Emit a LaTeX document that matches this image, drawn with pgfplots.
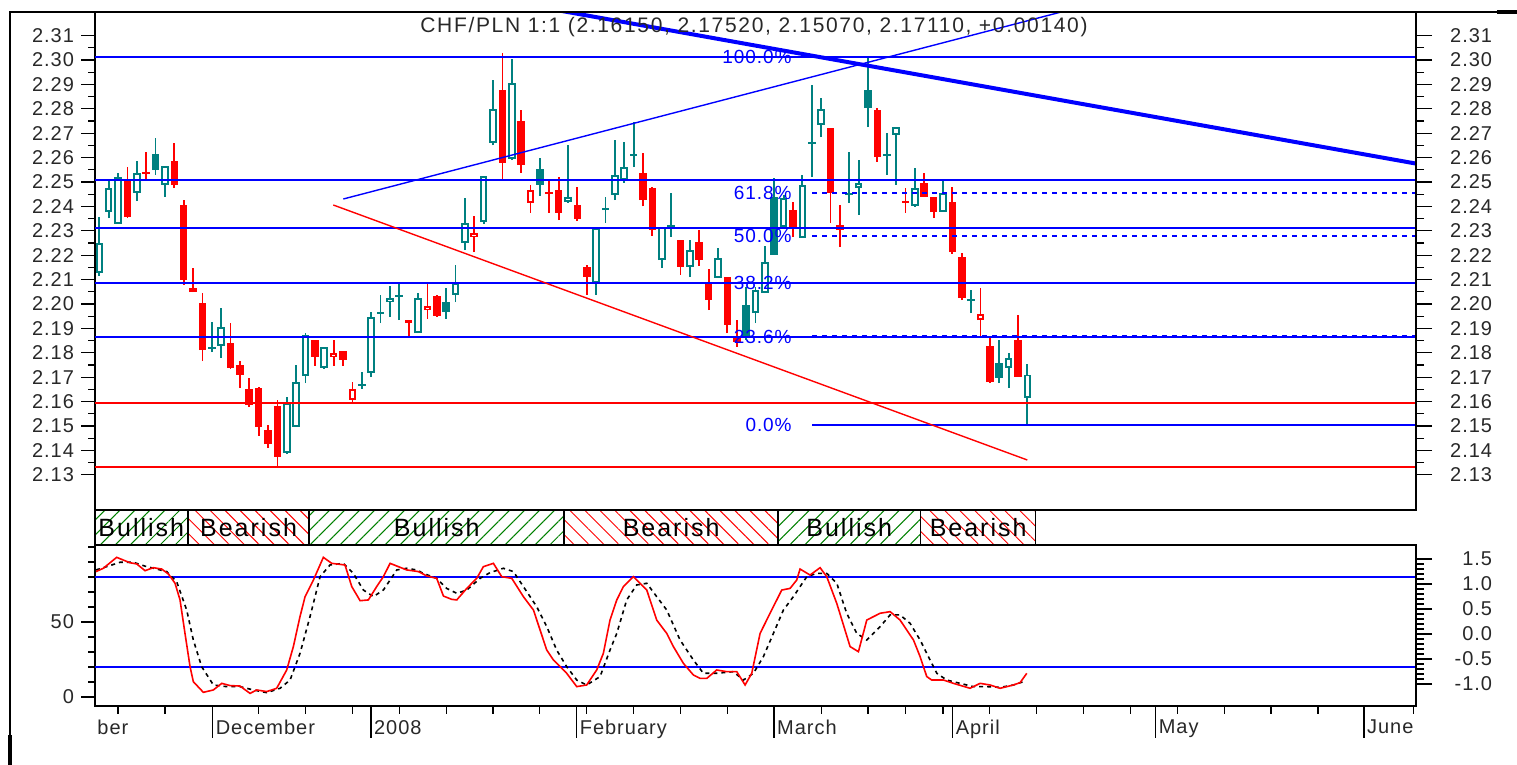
\documentclass[border=0pt]{standalone}
\usepackage{fontspec}
\setmainfont{Liberation Sans}[LetterSpace=5]
\usepackage{pgfplots}
\pgfplotsset{compat=1.18}
\usepackage{pgfplotstable}
\usetikzlibrary{patterns.meta}
\definecolor{cteal}{RGB}{0,128,128}
\definecolor{cred}{RGB}{255,0,0}
\definecolor{cblue}{RGB}{0,0,255}
\definecolor{cgreen}{RGB}{0,128,0}
\definecolor{ctext}{RGB}{40,40,40}

% teal hollow (close > open)
\pgfplotstableread{
i l h b t
0 2.2115 2.2357 2.2127 2.2250
1 2.2352 2.2508 2.2377 2.2475
2 2.2328 2.2537 2.2328 2.2520
4 2.2422 2.2586 2.2455 2.2537
7 2.2439 2.2566 2.2488 2.2566
13 2.1779 2.1984 2.1828 2.1906
20 2.1385 2.1620 2.1389 2.1594
21 2.1496 2.1750 2.1496 2.1680
22 2.1676 2.1881 2.1705 2.1873
24 2.1734 2.1824 2.1738 2.1824
29 2.1700 2.1967 2.1717 2.1947
31 2.1947 2.2074 2.2008 2.2025
34 2.1881 2.2045 2.1881 2.2025
38 2.2008 2.2160 2.2037 2.2086
39 2.2221 2.2434 2.2250 2.2332
41 2.2328 2.2525 2.2336 2.2525
42 2.2650 2.2918 2.2660 2.2799
44 2.2590 2.3004 2.2594 2.2906
50 2.2414 2.2652 2.2419 2.2437
53 2.2037 2.2311 2.2086 2.2311
55 2.2426 2.2672 2.2447 2.2529
56 2.2496 2.2664 2.2508 2.2561
60 2.2148 2.2316 2.2180 2.2316
63 2.2110 2.2262 2.2152 2.2221
66 2.2107 2.2230 2.2107 2.2189
70 2.1922 2.2070 2.1963 2.2057
71 2.2045 2.2238 2.2045 2.2172
73 2.2311 2.2447 2.2316 2.2434
75 2.2271 2.2529 2.2271 2.2488
77 2.2684 2.2844 2.2734 2.2799
81 2.2365 2.2590 2.2475 2.2496
85 2.2488 2.2725 2.2693 2.2725
87 2.2398 2.2557 2.2402 2.2475
90 2.2377 2.2508 2.2377 2.2455
97 2.1656 2.1799 2.1738 2.1779
99 2.1507 2.1752 2.1615 2.1711
}\TH
% teal filled
\pgfplotstableread{
i l h b t
6 2.2529 2.2680 2.2549 2.2615
12 2.1803 2.1926 2.1816 2.1824
28 2.1652 2.1721 2.1664 2.1672
30 2.1922 2.2037 2.1959 2.1967
32 2.1934 2.2086 2.2029 2.2037
37 2.1939 2.2066 2.1967 2.2008
47 2.2443 2.2598 2.2488 2.2553
54 2.2332 2.2439 2.2385 2.2393
57 2.2561 2.2746 2.2607 2.2615
61 2.2275 2.2455 2.2316 2.2324
69 2.1852 2.2070 2.1865 2.1996
72 2.2201 2.2516 2.2201 2.2439
76 2.2520 2.2898 2.2656 2.2664
80 2.2414 2.2623 2.2446 2.2454
82 2.2725 2.3008 2.2803 2.2877
84 2.2529 2.2700 2.2607 2.2615
93 2.1963 2.2057 2.2012 2.2020
96 2.1676 2.1852 2.1697 2.1758
}\TF
% red hollow
\pgfplotstableread{
i l h b t
25 2.1746 2.1852 2.1783 2.1799
27 2.1594 2.1680 2.1607 2.1652
35 2.1939 2.2086 2.1975 2.1992
40 2.2213 2.2361 2.2275 2.2291
46 2.2373 2.2488 2.2414 2.2467
94 2.1865 2.2066 2.1934 2.1959
}\RH
% red filled
\pgfplotstableread{
i l h b t
3 2.2353 2.2561 2.2357 2.2508
5 2.2508 2.2623 2.2533 2.2541
8 2.2475 2.2660 2.2488 2.2586
9 2.2078 2.2426 2.2098 2.2406
10 2.2049 2.2148 2.2049 2.2066
11 2.1766 2.2045 2.1811 2.2004
14 2.1734 2.1922 2.1738 2.1840
15 2.1656 2.1766 2.1709 2.1750
16 2.1578 2.1697 2.1586 2.1652
17 2.1459 2.1660 2.1496 2.1656
18 2.1410 2.1504 2.1426 2.1484
19 2.1330 2.1607 2.1373 2.1582
23 2.1746 2.1852 2.1783 2.1852
26 2.1746 2.1807 2.1770 2.1807
33 2.1861 2.1934 2.1922 2.1934
36 2.1947 2.2037 2.1951 2.2033
43 2.2508 2.3029 2.2578 2.2877
45 2.2537 2.2795 2.2570 2.2750
48 2.2373 2.2508 2.2451 2.2459
49 2.2344 2.2520 2.2373 2.2467
51 2.2340 2.2480 2.2348 2.2406
52 2.2037 2.2160 2.2111 2.2152
58 2.2400 2.2619 2.2426 2.2537
59 2.2280 2.2480 2.2303 2.2475
62 2.2119 2.2262 2.2152 2.2262
64 2.2156 2.2303 2.2180 2.2254
65 2.1975 2.2144 2.2016 2.2086
67 2.1881 2.2111 2.1914 2.2111
68 2.1824 2.1934 2.1844 2.1865
74 2.2275 2.2418 2.2316 2.2385
78 2.2332 2.2721 2.2455 2.2721
79 2.2234 2.2406 2.2303 2.2324
83 2.2582 2.2803 2.2602 2.2795
86 2.2373 2.2475 2.2414 2.2422
88 2.2439 2.2537 2.2439 2.2496
89 2.2352 2.2439 2.2377 2.2439
91 2.2205 2.2480 2.2213 2.2418
92 2.2016 2.2209 2.2025 2.2193
95 2.1676 2.1865 2.1680 2.1828
98 2.1701 2.1955 2.1701 2.1852
}\RF

\pgfplotsset{
  panel/.style={scale only axis, width=660.5pt, anchor=south west,
    xmin=-0.46, xmax=140.46,
    axis line style={black, line width=0.6pt},
    tick style={black, line width=0.6pt},
    tick align=outside,
    /pgf/number format/assume math mode=true,
    ticklabel style={text=ctext, font=\fontsize{10}{12}\selectfont}},
  eb/.style 2 args={draw=none, mark=none, forget plot,
    error bars/.cd, y dir=plus, y explicit, error mark=none,
    error bar style={draw=#1, line width=#2, solid}},
  ebin/.style={draw=none, mark=none, forget plot,
    error bars/.cd, y dir=plus, y explicit, error mark=none,
    error bar style={draw=white, line width=1.8pt, solid, shorten <=0.9pt, shorten >=0.9pt}},
}
\newcommand\wicks[2]{\addplot[eb={#2}{0.9pt}] table[x=i,y=l,y error expr=\thisrow{h}-\thisrow{l}]{#1};}
\newcommand\bodies[2]{\addplot[eb={#2}{3.8pt}] table[x=i,y=b,y error expr=\thisrow{t}-\thisrow{b}]{#1};}
\newcommand\inner[1]{\addplot[ebin] table[x=i,y=b,y error expr=\thisrow{t}-\thisrow{b}]{#1};}

\begin{document}
\begin{tikzpicture}[font=\fontsize{10}{12}\selectfont]
\path[use as bounding box] (0,0) rectangle (758.5pt,382.5pt);

% ---------------- price panel ----------------
\begin{axis}[panel, at={(47.5pt,127.5pt)}, height=249pt,
  ymin=2.11557, ymax=2.31967,
  xtick=\empty, ytick pos=left,
  ytick={2.13,2.14,2.15,2.16,2.17,2.18,2.19,2.20,2.21,2.22,2.23,2.24,2.25,2.26,2.27,2.28,2.29,2.30,2.31},
  minor y tick num=1,
  major tick length=7pt, minor tick length=3.5pt,
  yticklabel style={/pgf/number format/.cd, fixed, fixed zerofill, precision=2},
]
\wicks{\TH}{cteal} \wicks{\TF}{cteal} \wicks{\RH}{cred} \wicks{\RF}{cred}
\bodies{\TH}{cteal} \bodies{\TF}{cteal} \bodies{\RH}{cred} \bodies{\RF}{cred}
\inner{\TH} \inner{\RH}
% horizontal support / resistance lines
\addplot[cblue, line width=1pt] coordinates {(-0.46,2.3014) (140.46,2.3014)};
\addplot[cblue, line width=1pt] coordinates {(-0.46,2.2508) (140.46,2.2508)};
\addplot[cblue, line width=1pt] coordinates {(-0.46,2.2310) (140.46,2.2310)};
\addplot[cblue, line width=1pt] coordinates {(-0.46,2.2087) (140.46,2.2087)};
\addplot[cblue, line width=1pt] coordinates {(-0.46,2.1866) (140.46,2.1866)};
\addplot[cred, line width=1pt] coordinates {(-0.46,2.1596) (140.46,2.1596)};
\addplot[cred, line width=1pt] coordinates {(-0.46,2.1331) (140.46,2.1331)};
% fibonacci levels
\addplot[cblue, line width=1pt] coordinates {(76.03,2.1504) (140.46,2.1504)};
\addplot[cblue, line width=1pt, dash pattern=on 2.5pt off 2.5pt] coordinates {(76.03,2.2454) (140.46,2.2454)};
\addplot[cblue, line width=1pt, dash pattern=on 2.5pt off 2.5pt] coordinates {(76.03,2.2279) (140.46,2.2279)};
\addplot[cblue, line width=1.2pt, dash pattern=on 2.5pt off 2.5pt] coordinates {(76.03,2.1866) (140.46,2.1866)};
% trend lines
\addplot[cblue, line width=2pt] coordinates {(49.15,2.32021) (140.46,2.25754)};
\addplot[cblue, line width=0.7pt] coordinates {(26.03,2.24303) (103.55,2.32061)};
\addplot[cred, line width=0.7pt] coordinates {(24.96,2.24057) (98.99,2.13607)};
% fib labels
\begin{scope}[every node/.style={text=cblue, font=\fontsize{9.5}{10}\selectfont, anchor=east, inner sep=0pt}]
\node at (axis cs:73.9,2.3014) {100.0\%};
\node at (axis cs:73.9,2.2454) {61.8\%};
\node at (axis cs:73.9,2.2279) {50.0\%};
\node at (axis cs:73.9,2.2087) {38.2\%};
\node at (axis cs:73.9,2.1866) {23.6\%};
\node at (axis cs:73.9,2.1504) {0.0\%};
\end{scope}
\end{axis}
% right price axis
\begin{axis}[panel, at={(47.5pt,127.5pt)}, height=249pt,
  ymin=2.11557, ymax=2.31967,
  axis x line=none, axis y line*=right,
  ytick={2.13,2.14,2.15,2.16,2.17,2.18,2.19,2.20,2.21,2.22,2.23,2.24,2.25,2.26,2.27,2.28,2.29,2.30,2.31},
  minor y tick num=1,
  major tick length=8pt, minor tick length=4pt,
  yticklabel={\makebox[22pt][r]{\pgfmathprintnumber[fixed,fixed zerofill,precision=2]{\tick}}},
  yticklabel style={xshift=4.5pt},
]
\end{axis}

% ---------------- band panel ----------------
\begin{axis}[panel, at={(47.5pt,110pt)}, height=17.5pt, ymin=0, ymax=1, hide axis, clip=false]
\addplot[draw=black, line width=0.8pt, pattern={Lines[angle=45,distance=5.3pt,line width=0.5pt]}, pattern color=cgreen] coordinates {(-0.46,0) (-0.46,1) (9.43,1) (9.43,0)} \closedcycle;
\addplot[draw=black, line width=0.8pt, pattern={Lines[angle=-45,distance=5.3pt,line width=0.5pt]}, pattern color=cred] coordinates {(9.43,0) (9.43,1) (22.40,1) (22.40,0)} \closedcycle;
\addplot[draw=black, line width=0.8pt, pattern={Lines[angle=45,distance=5.3pt,line width=0.5pt]}, pattern color=cgreen] coordinates {(22.40,0) (22.40,1) (49.60,1) (49.60,0)} \closedcycle;
\addplot[draw=black, line width=0.8pt, pattern={Lines[angle=-45,distance=5.3pt,line width=0.5pt]}, pattern color=cred] coordinates {(49.60,0) (49.60,1) (72.37,1) (72.37,0)} \closedcycle;
\addplot[draw=black, line width=0.8pt, pattern={Lines[angle=45,distance=5.3pt,line width=0.5pt]}, pattern color=cgreen] coordinates {(72.37,0) (72.37,1) (87.62,1) (87.62,0)} \closedcycle;
\addplot[draw=black, line width=0.8pt, pattern={Lines[angle=-45,distance=5.3pt,line width=0.5pt]}, pattern color=cred] coordinates {(87.62,0) (87.62,1) (99.87,1) (99.87,0)} \closedcycle;
\addplot[black, line width=0.6pt] coordinates {(99.87,1) (140.46,1)};
\addplot[black, line width=0.6pt] coordinates {(99.87,0) (140.46,0)};
\begin{scope}[every node/.style={font=\fontsize{12.5}{14}\selectfont\addfontfeatures{LetterSpace=8}, text=black, inner sep=0pt}]
\node at (axis cs:4.48,0.5) {Bullish};
\node at (axis cs:15.92,0.5) {Bearish};
\node at (axis cs:36.0,0.5) {Bullish};
\node at (axis cs:61.0,0.5) {Bearish};
\node at (axis cs:80.0,0.5) {Bullish};
\node at (axis cs:93.75,0.5) {Bearish};
\end{scope}
\end{axis}

% ---------------- oscillator panel ----------------
\begin{axis}[panel, at={(47.5pt,29.5pt)}, height=80.5pt,
  ymin=-6, ymax=101.33, xtick=\empty, ytick pos=left,
  ytick={0,50}, minor ytick={10,20,30,40,60,70,80,90,100},
  major tick length=7pt, minor tick length=3.5pt,
]
\addplot[cblue, line width=1pt] coordinates {(-0.46,80) (140.46,80)};
\addplot[cblue, line width=1pt] coordinates {(-0.46,20) (140.46,20)};
\addplot[black, line width=0.8pt, dash pattern=on 2pt off 2pt] coordinates {
(-0.35,84.7) (0.79,86.9) (2.21,89.8) (3.63,89.8) (5.05,86.9) (6.12,85.3) (7.19,83.6) (8.25,76.9) (9.32,58.0) (10.03,38.0) (10.92,20.2) (12.17,8.0) (13.59,6.9) (15.01,6.9) (16.43,4.7) (17.86,2.9) (19.28,5.8) (20.35,11.3) (21.41,29.1) (22.48,53.6) (23.55,80.2) (24.61,88.0) (26.03,89.1) (27.10,82.4) (28.17,71.3) (29.24,66.9) (30.30,71.3) (31.02,78.0) (31.73,84.7) (32.79,85.8) (33.86,84.7) (34.57,82.4) (35.99,79.1) (37.06,72.4) (38.13,69.1) (39.20,71.3) (40.62,79.1) (41.68,82.9) (43.10,85.8) (44.17,83.6) (45.24,73.6) (46.66,60.2) (47.73,46.9) (48.79,31.3) (49.86,20.2) (50.93,11.3) (51.99,8.0) (53.42,13.6) (54.48,31.3) (55.20,42.4) (56.26,64.7) (57.33,74.7) (58.40,75.8) (59.46,66.9) (60.53,58.0) (61.95,38.0) (63.37,24.7) (64.44,15.8) (65.86,15.8) (67.64,16.9) (68.71,11.3) (69.78,15.8) (70.84,26.9) (71.91,42.4) (72.98,58.0) (74.04,66.9) (75.47,80.2) (76.53,82.4) (77.60,82.4) (78.67,75.8) (79.73,55.8) (80.80,42.4) (81.87,38.0) (83.29,46.9) (84.36,54.7) (85.42,54.7) (86.49,49.1) (87.56,38.0) (88.62,24.7) (89.34,15.8) (90.40,11.3) (91.82,9.1) (93.25,6.9) (94.67,6.9) (96.09,6.4) (97.51,8.0) (98.58,10.2)};
\addplot[cred, line width=0.8pt] coordinates {
(-0.35,83.6) (0.43,85.8) (1.85,93.1) (2.56,91.3) (3.28,89.5) (3.99,88.7) (4.88,84.2) (5.76,86.2) (6.65,85.3) (7.37,82.0) (8.08,75.8) (8.61,64.7) (9.14,42.4) (9.68,20.2) (10.03,10.2) (11.10,3.1) (12.17,4.7) (13.06,9.1) (13.95,7.6) (15.01,7.3) (16.08,2.4) (16.79,4.7) (17.86,3.6) (18.92,5.8) (19.99,18.0) (20.70,33.6) (21.41,53.6) (21.95,66.9) (22.84,78.0) (23.90,93.1) (24.79,89.1) (26.21,88.0) (26.93,73.6) (27.82,64.2) (28.70,64.7) (29.59,73.6) (30.30,80.2) (31.02,89.1) (31.90,86.9) (32.79,84.7) (34.04,83.6) (34.93,80.7) (35.99,79.1) (36.71,67.3) (37.59,65.1) (38.13,64.7) (39.20,72.4) (40.26,79.1) (40.97,86.9) (42.04,89.1) (42.93,80.2) (44.0,79.1) (45.24,66.9) (46.31,58.0) (47.73,31.3) (48.44,24.7) (49.51,18.0) (49.86,15.8) (50.93,6.9) (51.99,8.0) (53.06,18.0) (53.77,29.1) (54.48,51.3) (55.20,64.7) (55.91,73.6) (56.97,80.2) (58.40,71.3) (59.46,51.3) (60.53,42.4) (61.24,33.6) (62.31,22.4) (63.37,14.7) (64.09,12.4) (64.80,12.4) (65.86,18.0) (66.93,16.9) (68.0,16.9) (68.89,8.0) (69.60,15.8) (70.49,42.4) (71.55,55.8) (72.80,71.3) (73.69,72.4) (74.40,78.0) (74.75,85.3) (75.82,81.3) (76.89,86.2) (77.60,80.2) (78.67,62.4) (80.09,33.6) (80.98,30.2) (81.87,51.3) (83.29,55.8) (84.36,56.9) (85.42,51.3) (86.85,38.0) (87.56,26.9) (88.27,13.6) (88.80,11.3) (90.05,11.3) (91.11,9.1) (92.89,5.8) (93.96,9.1) (95.02,8.0) (96.09,5.8) (97.51,8.0) (98.23,9.6) (98.94,15.8)};
\end{axis}
% right oscillator axis
\begin{axis}[panel, at={(47.5pt,29.5pt)}, height=80.5pt,
  ymin=-1.44, ymax=1.78, axis x line=none, axis y line*=right,
  ytick={-1,-0.5,0,0.5,1,1.5}, minor y tick num=4,
  major tick length=8pt, minor tick length=4pt,
  yticklabel={\makebox[22pt][r]{\pgfmathprintnumber[fixed,fixed zerofill,precision=1]{\tick}}},
  yticklabel style={xshift=4.5pt},
]
\end{axis}
% date axis
\begin{axis}[panel, at={(47.5pt,29.5pt)}, height=80.5pt, ymin=0, ymax=1,
  axis y line=none, axis x line*=bottom,
  xtick={12.10,28.98,50.93,71.98,91.04,112.69,134.92},
  xticklabels={December,2008,February,March,April,May,June},
  minor xtick={2,7,17,22,27,32,37,42,47,52,57,62,67,77,82,86,90,95,100,105,110,115,120,125,130,140.2},
  major tick length=16pt, minor tick length=4pt,
  xticklabel style={anchor=north west, xshift=-2pt, yshift=12.5pt},
]
\end{axis}
\node[anchor=west, inner sep=0pt, text=ctext] at (48.5pt,19pt) {ber};
% title
\node[text=ctext, font=\fontsize{10.5}{12}\selectfont\addfontfeatures{LetterSpace=8}] at (377pt,369pt) {CHF/PLN 1:1 (2.16150, 2.17520, 2.15070, 2.17110, +0.00140)};
% outer frame
\draw[black, line width=0.6pt] (5pt,0pt) -- (5pt,376.5pt) -- (758.5pt,376.5pt);
\draw[black, line width=1.6pt] (5pt,0pt) -- (5pt,15pt);
\draw[black, line width=1.6pt] (748.5pt,376.5pt) -- (758.5pt,376.5pt);
\end{tikzpicture}
\end{document}
